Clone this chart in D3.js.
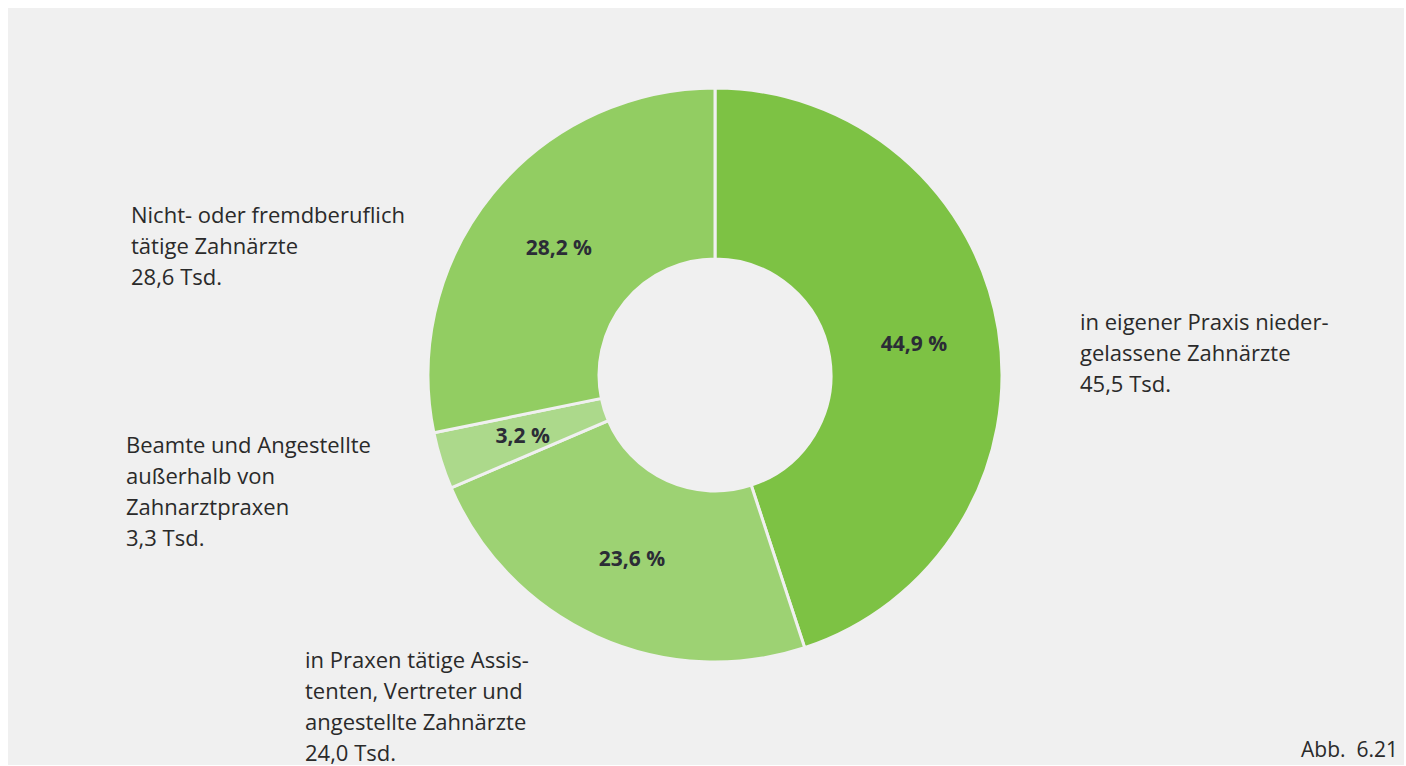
<!DOCTYPE html>
<html>
<head>
<meta charset="utf-8">
<script src="https://cdn.jsdelivr.net/npm/d3@7"></script>
<style>
  html, body { margin: 0; padding: 0; background: #fff; }
  svg { display: block; font-family: "Open Sans", "Noto Sans", sans-serif; }
</style>
</head>
<body>
<svg></svg>
<script>
// data
var groups = [
  ['in eigener Praxis nieder-', 'gelassene Zahnärzte'],
  ['in Praxen tätige Assis-', 'tenten, Vertreter und', 'angestellte Zahnärzte'],
  ['Beamte und Angestellte', 'außerhalb von', 'Zahnarztpraxen'],
  ['Nicht- oder fremdberuflich', 'tätige Zahnärzte']
];
var shares = [44.9, 23.6, 3.2, 28.2];      // percent
var counts = [45.5, 24.0, 3.3, 28.6];      // Tsd.
var colors = ['#7dc244', '#9dd273', '#acd98b', '#92cd62'];
var caption = 'Abb.  6.21';

var width = 1406, height = 766;
var cx = 715, cy = 375, outerR = 287, innerR = 116;

// label anchors (layout only)
var labelPos = [[1080, 330], [305, 668], [126, 453], [131, 223]];
var lineH = 31;

var loc = d3.formatLocale({ decimal: ',', thousands: '.', grouping: [3], currency: ['', ' €'] });
var f1 = loc.format('.1f');

var svg = d3.select('svg').attr('width', width).attr('height', height);

svg.append('rect')
  .attr('x', 8).attr('y', 8)
  .attr('width', width - 10).attr('height', height - 9)
  .attr('fill', '#f0f0f0');

var pie = d3.pie().sort(null).value(function(d) { return d; });
var arc = d3.arc().innerRadius(innerR).outerRadius(outerR);
var arcs = pie(shares);

var g = svg.append('g').attr('transform', 'translate(' + cx + ',' + cy + ')');

g.selectAll('path.slice')
  .data(arcs)
  .enter()
  .append('path')
  .attr('class', 'slice')
  .attr('d', arc)
  .attr('fill', function(d, i) { return colors[i]; })
  .attr('stroke', '#f0f0f0')
  .attr('stroke-width', 3)
  .attr('stroke-linejoin', 'miter');

g.selectAll('text.pct')
  .data(arcs)
  .enter()
  .append('text')
  .attr('class', 'pct')
  .attr('transform', function(d) { return 'translate(' + arc.centroid(d) + ')'; })
  .attr('text-anchor', 'middle')
  .attr('dy', '0.36em')
  .attr('font-size', 21)
  .attr('font-weight', 'bold')
  .attr('fill', '#2b2c36')
  .text(function(d) { return f1(d.data) + ' %'; });

// outside labels
var lab = svg.append('g').attr('class', 'labels');
groups.forEach(function(lines, i) {
  var t = lab.append('text')
    .attr('x', labelPos[i][0])
    .attr('y', labelPos[i][1])
    .attr('font-size', 22)
    .attr('fill', '#2a2a2a');
  lines.concat([f1(counts[i]) + ' Tsd.']).forEach(function(s, k) {
    t.append('tspan')
      .attr('x', labelPos[i][0])
      .attr('dy', k === 0 ? 0 : lineH)
      .text(s);
  });
});

svg.append('text')
  .attr('x', 1398)
  .attr('y', 757)
  .attr('text-anchor', 'end')
  .attr('font-size', 21)
  .attr('fill', '#2a2a2a')
  .attr('xml:space', 'preserve')
  .style('white-space', 'pre')
  .text(caption);
</script>
</body>
</html>
